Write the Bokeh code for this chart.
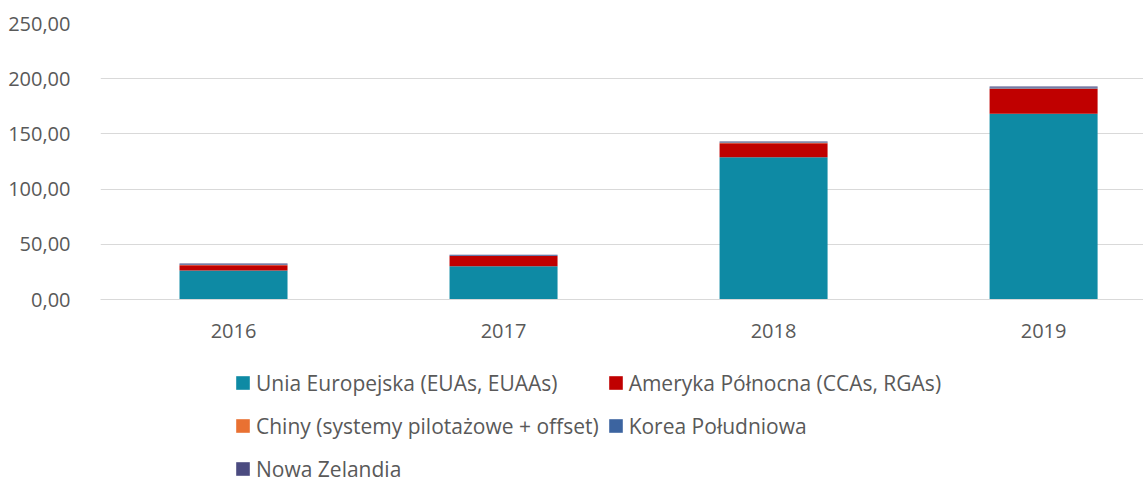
from bokeh.plotting import figure
from bokeh.layouts import column
from bokeh.models import (ColumnDataSource, Range1d, FixedTicker, CustomJSTickFormatter,
                          Legend, LegendItem)
from bokeh.embed import file_html
from bokeh.resources import INLINE

years = ["2016", "2017", "2018", "2019"]
eu = [26.3, 30.2, 128.9, 168.2]
na = [4.8, 9.1, 12.7, 22.6]
cn = [0.2, 0.2, 0.3, 0.4]
kr = [0.4, 0.5, 0.6, 0.8]
nz = [0.8, 0.6, 0.6, 0.9]

series = ["eu", "na", "cn", "kr", "nz"]
labels = ["Unia Europejska (EUAs, EUAAs)", "Ameryka Północna (CCAs, RGAs)",
          "Chiny (systemy pilotażowe + offset)", "Korea Południowa", "Nowa Zelandia"]
colors = ["#0E8AA4", "#C00000", "#E97132", "#3C64A0", "#4B4B80"]

src = ColumnDataSource(dict(x=list(range(len(years))), eu=eu, na=na, cn=cn, kr=kr, nz=nz))

FONT = "Open Sans"
TXT = "#595959"
GRID = "#D9D9D9"

p = figure(width=1143, height=360, output_backend="svg", toolbar_location=None,
           x_range=Range1d(-0.4926, 3.37), y_range=Range1d(0, 250),
           min_border_left=100, min_border_right=0, min_border_top=23,
           min_border_bottom=61)
p.outline_line_color = None

renderers = p.vbar_stack(series, x="x", width=0.4, source=src, color=colors,
                         line_color=None)

ticks = [0, 50, 100, 150, 200, 250]
p.xgrid.grid_line_color = None
p.ygrid.grid_line_color = GRID
p.ygrid.ticker = FixedTicker(ticks=ticks)

p.yaxis.ticker = FixedTicker(ticks=ticks)
p.yaxis.formatter = CustomJSTickFormatter(code="return tick.toFixed(2).replace('.', ',')")
p.yaxis.axis_line_color = None
p.yaxis.major_tick_line_color = None
p.yaxis.minor_tick_line_color = None
p.yaxis.major_label_standoff = 24
p.yaxis.major_label_text_font = FONT
p.yaxis.major_label_text_font_size = "20px"
p.yaxis.major_label_text_color = TXT

p.xaxis.ticker = FixedTicker(ticks=list(range(len(years))))
p.xaxis.formatter = CustomJSTickFormatter(args=dict(labels=years),
                                          code="return labels[Math.round(tick)] || ''")
p.xaxis.axis_line_color = GRID
p.xaxis.axis_line_width = 1
p.xaxis.major_tick_line_color = None
p.xaxis.minor_tick_line_color = None
p.xaxis.major_label_standoff = 18
p.xaxis.major_label_text_font = FONT
p.xaxis.major_label_text_font_size = "20px"
p.xaxis.major_label_text_color = TXT

# legend panel below the chart (its frame is aligned with the chart frame)
pl = figure(width=1143, height=122, output_backend="svg", toolbar_location=None,
            x_range=Range1d(0, 1), y_range=Range1d(0, 1), x_axis_type=None,
            y_axis_type=None, min_border=0)
pl.outline_line_color = None
pl.xgrid.visible = False
pl.ygrid.visible = False
# swatch renderers kept outside the visible range; only their legend glyphs show
leg_r = [pl.vbar(x=[5], top=[1], width=0.1, color=c, line_color=None) for c in colors]

items = [LegendItem(label=l, renderers=[r]) for l, r in zip(labels, leg_r)]
legend = Legend(items=items, location=(134, -4), orientation="horizontal", ncols=2,
                glyph_width=17, glyph_height=17, label_height=35, label_standoff=5,
                spacing=8, padding=0, margin=0, border_line_color=None,
                background_fill_alpha=0, label_text_font=FONT,
                label_text_font_size="21px", label_text_color=TXT,
                click_policy="none")
pl.add_layout(legend, "center")

open("out.html", "w").write(file_html(column(p, pl), INLINE))
